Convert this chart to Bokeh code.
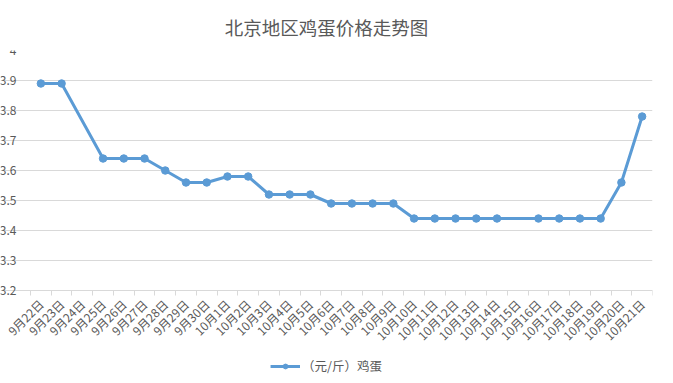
import math
from bokeh.plotting import figure
from bokeh.models import ColumnDataSource, FixedTicker, Legend, LegendItem, Range1d
from bokeh.embed import file_html
from bokeh.resources import INLINE

# ---- data ----
dates = ["9月22日", "9月23日", "9月24日", "9月25日", "9月26日", "9月27日", "9月28日",
         "9月29日", "9月30日", "10月1日", "10月2日", "10月3日", "10月4日", "10月5日",
         "10月6日", "10月7日", "10月8日", "10月9日", "10月10日", "10月11日", "10月12日",
         "10月13日", "10月14日", "10月15日", "10月16日", "10月17日", "10月18日",
         "10月19日", "10月20日", "10月21日"]
prices = [3.89, 3.89, None, 3.64, 3.64, 3.64, 3.60, 3.56, 3.56, 3.58, 3.58, 3.52,
          3.52, 3.52, 3.49, 3.49, 3.49, 3.49, 3.44, 3.44, 3.44, 3.44, 3.44, None,
          3.44, 3.44, 3.44, 3.44, 3.56, 3.78]
y_ticks = [3.2, 3.3, 3.4, 3.5, 3.6, 3.7, 3.8, 3.9, 4.0]
y_tick_labels = ["3.2", "3.3", "3.4", "3.5", "3.6", "3.7", "3.8", "3.9", "4"]
chart_title = "北京地区鸡蛋价格走势图"
series_name = "（元/斤）鸡蛋"

# ---- build ----
n = len(dates)
centers = [i + 0.5 for i in range(n)]
xs = [centers[i] for i, v in enumerate(prices) if v is not None]
ys = [v for v in prices if v is not None]
src = ColumnDataSource(data=dict(x=xs, y=ys))

FONT = "Noto Sans CJK SC"
GRAY = "#595959"
LINE = "#d9d9d9"
BLUE = "#5b9bd5"

PLOT_W = 622          # width of the category band
LEFT_W = 30           # room left of the band for the value labels
PLOT_H = 240          # height of the 3.2..4.0 value band
BELOW_H = 85          # room under the band for the date labels and legend
y_lo, y_hi = y_ticks[0], y_ticks[-1]
y_start = y_lo - BELOW_H * (y_hi - y_lo) / PLOT_H
x_start = -LEFT_W * n / PLOT_W

p = figure(frame_width=PLOT_W + LEFT_W, frame_height=PLOT_H + BELOW_H,
           output_backend="svg", toolbar_location=None,
           x_range=Range1d(x_start, n), y_range=Range1d(y_start, y_hi),
           min_border_left=0, min_border_right=5, min_border_top=0, min_border_bottom=0,
           title=chart_title)
p.title.align = "center"
p.title.text_font = FONT
p.title.text_font_size = "18.5px"
p.title.text_font_style = "normal"
p.title.text_color = GRAY
p.title.offset = 0
p.title.standoff = 22

p.outline_line_color = None
p.background_fill_color = "white"
p.border_fill_color = "white"

# x axis: drawn at 3.2, labels at category centers, tick marks between categories
p.xaxis.fixed_location = y_lo
p.xaxis.bounds = (0, n)
p.xaxis.ticker = FixedTicker(ticks=centers, minor_ticks=list(range(n + 1)))
p.xaxis.major_label_overrides = {c: d for c, d in zip(centers, dates)}
p.xaxis.major_label_orientation = math.pi / 4
p.xaxis.major_tick_line_color = None
p.xaxis.major_tick_out = 0
p.xaxis.major_tick_in = 0
p.xaxis.minor_tick_line_color = LINE
p.xaxis.minor_tick_out = 5
p.xaxis.minor_tick_in = 0
p.xaxis.axis_line_color = LINE
p.xaxis.major_label_text_font = FONT
p.xaxis.major_label_text_font_size = "12px"
p.xaxis.major_label_text_color = GRAY
p.xaxis.major_label_standoff = 6

p.yaxis.fixed_location = 0
p.yaxis.ticker = FixedTicker(ticks=y_ticks)
p.yaxis.major_label_overrides = {t: l for t, l in zip(y_ticks, y_tick_labels)}
p.yaxis.axis_line_color = None
p.yaxis.major_tick_line_color = None
p.yaxis.minor_tick_line_color = None
p.yaxis.major_label_text_font = FONT
p.yaxis.major_label_text_font_size = "12px"
p.yaxis.major_label_text_color = GRAY
p.yaxis.major_label_standoff = 8

p.xgrid.grid_line_color = None
p.ygrid.grid_line_color = LINE
p.ygrid.grid_line_width = 1
p.ygrid.bounds = (0, n)

ln = p.line("x", "y", source=src, line_color=BLUE, line_width=3)
sc = p.scatter("x", "y", source=src, size=7.5, fill_color=BLUE, line_color=BLUE)

legend = Legend(items=[LegendItem(label=series_name, renderers=[ln, sc])],
                orientation="horizontal", location="bottom_center",
                border_line_color=None, background_fill_alpha=0,
                label_text_font=FONT, label_text_font_size="12.5px",
                label_text_color=GRAY, glyph_width=30, glyph_height=12,
                label_standoff=2, padding=1, margin=0)
p.add_layout(legend)

open("out.html", "w").write(file_html(p, INLINE))
